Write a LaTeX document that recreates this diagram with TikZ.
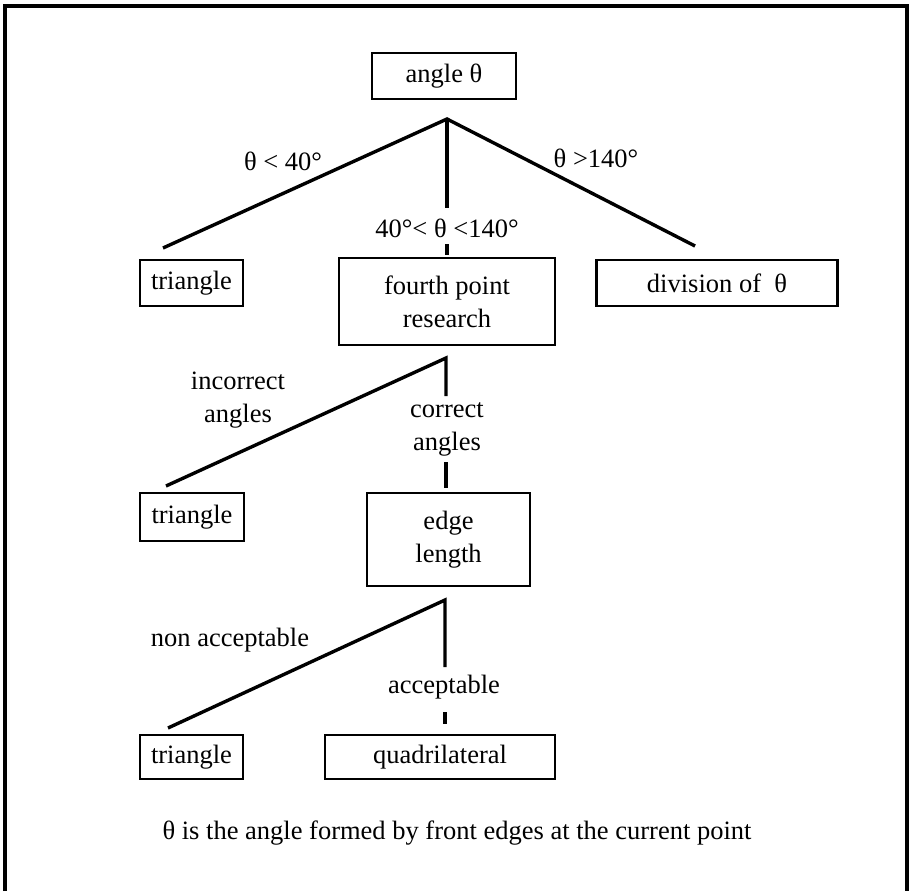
\documentclass[tikz,border=0pt]{standalone}
\usepackage{fontspec}
\setmainfont{Liberation Serif}
\begin{document}
\begin{tikzpicture}[x=1pt,y=-1pt,
  txt/.style={font=\fontsize{26.5}{33}\selectfont, inner sep=0pt, align=center},
  box/.style 2 args={txt, draw, line width=2.8pt, minimum width=#1pt, minimum height=#2pt},
  lbl/.style={txt},
  conn/.style={line width=3.4pt},
  frame/.style={line width=3.2pt}]
\useasboundingbox (0,0) rectangle (912,891);
\draw[frame] (5,891) -- (5,6) -- (907,6) -- (907,891);

% level 1
\node[box={144}{46}] (angle) at (444,76) {angle θ};
\coordinate (ap1) at (447,119);
\node[box={103}{46}] (tri1) at (191.5,283) {triangle};
\node[box={216}{87}] (fourth) at (447,301.5) {fourth point\\research};
\node[box={241}{46}] (div) at (717,283) {division of\enspace θ};
\node[lbl] (l1a) at (283,161) {θ < 40°};
\node[lbl] (l1b) at (447,228) {40°< θ <140°};
\node[lbl] (l1c) at (596,158) {θ >140°};
\coordinate (e1L) at (163,248);
\coordinate (e1R) at (695,246);
\coordinate (v1a) at (447,208);
\coordinate (v1b) at (447,244);
\coordinate (v1c) at (447,255);
\draw[conn] (e1L) -- (ap1) -- (e1R);
\draw[conn] (ap1) -- (v1a);
\draw[conn] (v1b) -- (v1c);

% level 2
\coordinate (ap2) at (446,358);
\node[box={104}{48}] (tri2) at (192,517) {triangle};
\node[box={163}{93}] (edge) at (448.5,539.5) {edge\\length};
\node[lbl] (l2a) at (238,400) {incorrect\\angles};
\node[lbl] (l2b) at (447,429) {correct\\angles};
\coordinate (e2L) at (166,486);
\coordinate (v2a) at (446,396);
\coordinate (v2b) at (446,462);
\coordinate (v2c) at (446,488);
\draw[conn] (e2L) -- (ap2) -- (v2a);
\draw[conn] (v2b) -- (v2c);

% level 3
\coordinate (ap3) at (445,600);
\node[box={103}{44}] (tri3) at (191.5,757) {triangle};
\node[box={230}{44}] (quad) at (440,757) {quadrilateral};
\node[lbl] (l3a) at (230,640) {non acceptable};
\node[lbl] (l3b) at (444,687) {acceptable};
\coordinate (e3L) at (168,728);
\coordinate (v3a) at (445,667);
\coordinate (v3b) at (445,712);
\coordinate (v3c) at (445,724);
\draw[conn] (e3L) -- (ap3) -- (v3a);
\draw[conn] (v3b) -- (v3c);

% note
\node[txt] (note) at (457,833) {θ is the angle formed by front edges at the current point};
\end{tikzpicture}
\end{document}
